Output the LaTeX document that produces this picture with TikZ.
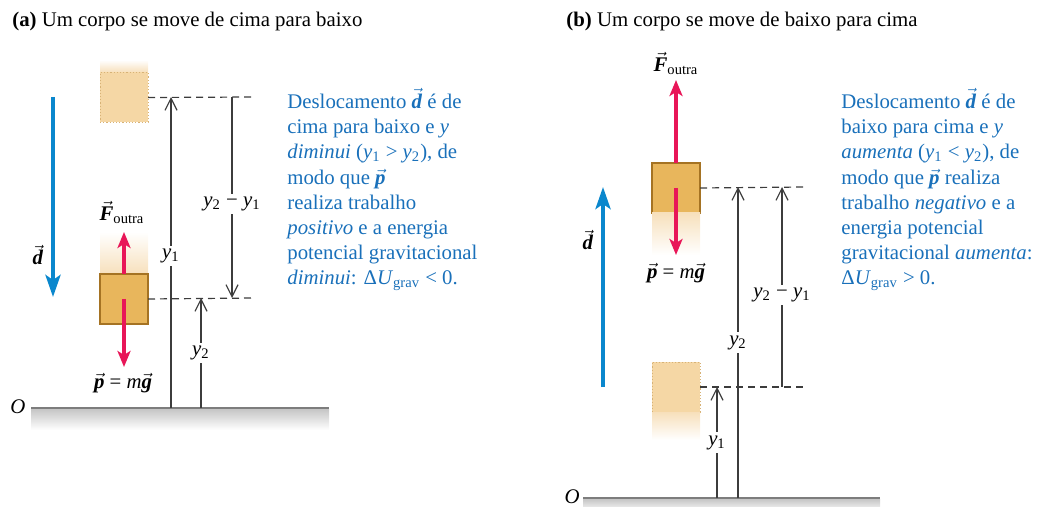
\documentclass[tikz,border=0pt]{standalone}
\usepackage{fontspec}
\setmainfont{Liberation Serif}
\usepackage{xcolor}
\usetikzlibrary{arrows.meta,positioning}

\definecolor{txtblue}{RGB}{25,112,186}
\definecolor{dblue}{RGB}{10,135,205}
\definecolor{fred}{RGB}{232,22,88}
\definecolor{blockfill}{RGB}{232,182,92}
\definecolor{blockedge}{RGB}{165,115,35}
\definecolor{ghostfill}{RGB}{245,215,165}
\definecolor{ghostedge}{RGB}{215,178,118}
\definecolor{fadecol}{RGB}{247,224,188}
\definecolor{dimgray}{RGB}{60,60,60}
\definecolor{groundgray}{RGB}{125,125,125}

\newcommand{\vecb}[1]{$\vec{\textbf{\textit{#1}}}$}
\newcommand{\yy}[1]{\textit{y}\textsubscript{#1}}

\begin{document}
\begin{tikzpicture}[
        x=0.5pt, y=-0.5pt,
        every node/.style={font=\fontsize{10.4}{12.6}\selectfont, inner sep=1pt},
        block/.style={draw=blockedge, fill=blockfill, line width=0.6pt, minimum width=24pt, minimum height=25pt, outer sep=0pt, inner sep=0pt},
        ghost/.style={block, draw=ghostedge, densely dotted, fill=ghostfill, line width=0.5pt},
        dvec/.style={draw=dblue, line width=2pt, -{Stealth[length=11pt,width=7.5pt,inset=2.5pt]}},
        force/.style={draw=fred, line width=2pt, -{Stealth[length=8pt,width=6.5pt,inset=2pt]}},
        level/.style={draw=dimgray, dash pattern=on 3.5pt off 2.5pt, line width=0.6pt},
        dim/.style={draw=dimgray, line width=0.6pt, -{Straight Barb[length=6pt,width=6pt]}},
        dimlabel/.style={fill=white, inner sep=1.5pt},
        note/.style={text=txtblue, align=left, anchor=base west, inner sep=0pt},
        ground/.style={draw=groundgray, line width=1pt}
    ]
        \useasboundingbox (0,0) rectangle (1037,507);

        % (a) moving down
        \node[anchor=base west, inner sep=0pt] (titleA) at (12,27) {\textbf{(a)} Um corpo se move de cima para baixo};

        \shade[top color=gray!45, bottom color=white] (31,409) rectangle (329,430);
        \coordinate (gndA0) at (31,408);
        \coordinate (gndA1) at (329,408);
        \draw[ground] (gndA0) -- (gndA1);
        \node (oA) at (18,407) {\textit{O}};

        \shade[top color=white, bottom color=fadecol] (100,60) rectangle (148,72);
        \node[ghost] (ghostA) at (124,97.5) {};
        \shade[top color=white, bottom color=fadecol] (100,232) rectangle (148,274);
        \node[block] (blkA) at (124,299) {};

        \coordinate (dA0) at (53,97);
        \coordinate (dA1) at (53,297);
        \draw[dvec] (dA0) -- (dA1);
        \node (dlabA) at (38,255) {\vecb{d}};

        \coordinate (fA) at (124,232);
        \coordinate (pA) at (124,367);
        \draw[force] (blkA.north) -- (fA);
        \draw[force] (blkA.center) -- (pA);
        \node (flabA) at (122,212) {\vecb{F}\textsubscript{outra}};
        \node (plabA) at (123,383) {\vecb{p} = \textit{m}\vecb{g}};

        \coordinate (topA) at (255,97);
        \coordinate (botA) at (255,298);
        \draw[level] (ghostA.east) -- (topA);
        \draw[level] (blkA.east) -- (botA);

        \coordinate (y1A0) at (171,408);
        \coordinate (y1A1) at (171,97);
        \coordinate (y2A0) at (201,408);
        \coordinate (y2A1) at (201,298);
        \coordinate (dyA0) at (232,97);
        \coordinate (dyA1) at (232,298);
        \draw[dim] (y1A0) -- node[dimlabel, pos=0.49] {\yy1} (y1A1);
        \draw[dim] (y2A0) -- node[dimlabel, pos=0.5] {\yy2} (y2A1);
        \draw[dim] (dyA0) -- node[dimlabel, pos=0.53] {\yy2 − \yy1} (dyA1);

        \node[note] (noteA) at (287,285) {Deslocamento \vecb{d} é de\\
            cima para baixo e \textit{y}\\
            \textit{diminui} (\yy1 > \yy2), de\\
            modo que \vecb{p}\\
            realiza trabalho\\
            \textit{positivo} e a energia\\
            potencial gravitacional\\
            \textit{diminui}: Δ\textit{U}\textsubscript{grav} < 0.};

        % (b) moving up
        \node[anchor=base west, inner sep=0pt] (titleB) at (566,27) {\textbf{(b)} Um corpo se move de baixo para cima};

        \shade[top color=gray!45, bottom color=white] (583,499) rectangle (880,512);
        \coordinate (gndB0) at (583,498);
        \coordinate (gndB1) at (880,498);
        \draw[ground] (gndB0) -- (gndB1);
        \node (oB) at (572,497) {\textit{O}};

        \node[block] (blkB) at (676,188) {};
        \shade[top color=fadecol, bottom color=white] (652,213) rectangle (700,255);
        \node[ghost] (ghostB) at (676,387) {};
        \shade[top color=fadecol, bottom color=white] (652,412.5) rectangle (700,440);

        \coordinate (dB0) at (603,387);
        \coordinate (dB1) at (603,187);
        \draw[dvec] (dB0) -- (dB1);
        \node (dlabB) at (588,240) {\vecb{d}};

        \coordinate (fB) at (676,80);
        \coordinate (pB) at (676,255);
        \draw[force] (blkB.north) -- (fB);
        \draw[force] (blkB.center) -- (pB);
        \node (flabB) at (676,63) {\vecb{F}\textsubscript{outra}};
        \node (plabB) at (676,273) {\vecb{p} = \textit{m}\vecb{g}};

        \coordinate (topB) at (805,187);
        \coordinate (botB) at (805,387);
        \draw[level] (blkB.east) -- (topB);
        \draw[level] (ghostB.east) -- (botB);

        \coordinate (y1B0) at (717,498);
        \coordinate (y1B1) at (717,387);
        \coordinate (y2B0) at (738,498);
        \coordinate (y2B1) at (738,187);
        \coordinate (dyB0) at (782,387);
        \coordinate (dyB1) at (782,187);
        \draw[dim] (y1B0) -- node[dimlabel, pos=0.5] {\yy1} (y1B1);
        \draw[dim] (y2B0) -- node[dimlabel, pos=0.5] {\yy2} (y2B1);
        \draw[dim] (dyB0) -- node[dimlabel, pos=0.46] {\yy2 − \yy1} (dyB1);

        \node[note] (noteB) at (841,285) {Deslocamento \vecb{d} é de\\
            baixo para cima e \textit{y}\\
            \textit{aumenta} (\yy1 < \yy2), de\\
            modo que \vecb{p} realiza\\
            trabalho \textit{negativo} e a\\
            energia potencial\\
            gravitacional \textit{aumenta}:\\
            Δ\textit{U}\textsubscript{grav} > 0.};
    \end{tikzpicture}
\end{document}
